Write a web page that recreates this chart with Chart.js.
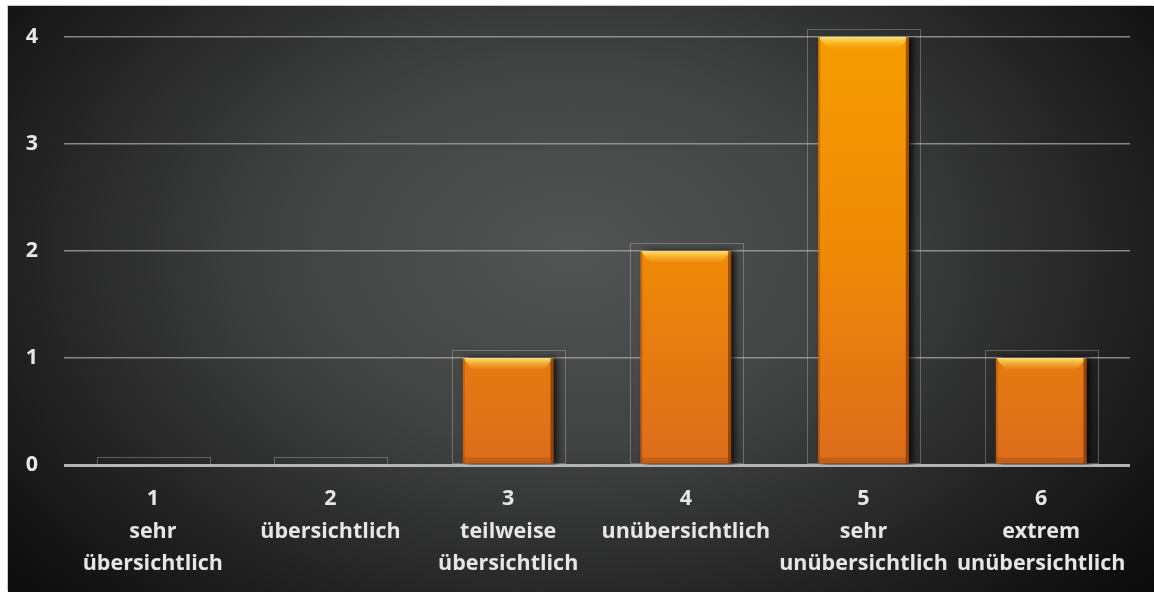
<!DOCTYPE html>
<html>
<head>
<meta charset="utf-8">
<script src="https://cdn.jsdelivr.net/npm/chart.js@4"></script>
<style>
  html, body { margin: 0; padding: 0; background: #ffffff; }
  #box {
    position: absolute; left: 8px; top: 6px; width: 1146px; height: 586px; overflow: hidden;
    background: radial-gradient(ellipse 72% 95% at 49% 42%, #535454 0%, #414242 35%, #1d1d1d 72%, #040404 100%);
    box-shadow: -1px -1px 0 #c8c8c8;
  }
  canvas { display: block; position: absolute; left: 0; top: -8px; }
</style>
</head>
<body>
<div id="box"><canvas id="chart" width="1146" height="594"></canvas></div>
<script>
// Kategorien und Werte
const categories = [
  ['1', 'sehr', 'übersichtlich'],
  ['2', 'übersichtlich'],
  ['3', 'teilweise', 'übersichtlich'],
  ['4', 'unübersichtlich'],
  ['5', 'sehr', 'unübersichtlich'],
  ['6', 'extrem', 'unübersichtlich']
];
const counts = [0, 0, 1, 2, 4, 1];
const yTicks = [0, 1, 2, 3, 4];

// Orangener Verlauf für die Balken
function barFill(context) {
  const area = context.chart.chartArea;
  if (!area) return '#f08c00';
  const el = context.element;
  const top = el && isFinite(el.y) ? el.y : area.top;
  const bottom = el && isFinite(el.base) ? el.base : area.bottom;
  if (bottom - top < 1) return '#f08c00';
  const g = context.chart.ctx.createLinearGradient(0, top, 0, bottom);
  g.addColorStop(0, '#f59c00');
  g.addColorStop(0.5, '#ef8a05');
  g.addColorStop(1, '#dc6c1c');
  return g;
}

// Rahmen hinter den Balken und Glanzkante oben
const barDecor = {
  id: 'barDecor',
  beforeDatasetsDraw(chart) {
    const ctx = chart.ctx;
    const meta = chart.getDatasetMeta(0);
    ctx.save();
    ctx.strokeStyle = 'rgba(200,200,200,0.35)';
    ctx.lineWidth = 1;
    meta.data.forEach(bar => {
      const half = bar.width / 2 + 11;
      const top = Math.round(bar.y - 8) + 0.5;
      ctx.strokeRect(Math.round(bar.x - half) + 0.5, top, Math.round(half * 2), Math.round(bar.base - top));
    });
    ctx.restore();
  },
  beforeDatasetDraw(chart) {
    const ctx = chart.ctx;
    ctx.save();
    ctx.shadowColor = 'rgba(0,0,0,0.75)';
    ctx.shadowBlur = 6;
    ctx.shadowOffsetX = 4;
    ctx.shadowOffsetY = 0;
  },
  afterDatasetDraw(chart) {
    const ctx = chart.ctx;
    ctx.restore();
    const meta = chart.getDatasetMeta(0);
    ctx.save();
    meta.data.forEach(bar => {
      const h = bar.base - bar.y;
      if (h < 4) return;
      const l = bar.x - bar.width / 2, r = bar.x + bar.width / 2, t = bar.y;
      // helle Kante oben
      const g = ctx.createLinearGradient(0, t, 0, t + 12);
      g.addColorStop(0, 'rgba(255,230,120,0.95)');
      g.addColorStop(1, 'rgba(255,200,60,0.0)');
      ctx.fillStyle = g;
      ctx.beginPath();
      ctx.moveTo(l, t); ctx.lineTo(r, t); ctx.lineTo(r - 10, t + 12); ctx.lineTo(l + 10, t + 12);
      ctx.closePath(); ctx.fill();
      // dunklere Seiten
      ctx.fillStyle = 'rgba(150,60,0,0.35)';
      ctx.fillRect(l, t, 2, h);
      ctx.fillStyle = 'rgba(90,30,0,0.55)';
      ctx.fillRect(r - 3, t, 3, h);
      // Unterkante
      ctx.fillStyle = 'rgba(150,70,20,0.35)';
      ctx.fillRect(l, bar.base - 6, bar.width, 6);
    });
    ctx.restore();
  }
};

new Chart(document.getElementById('chart'), {
  type: 'bar',
  data: {
    labels: categories,
    datasets: [{
      data: counts,
      backgroundColor: barFill,
      borderWidth: 0,
      barPercentage: 0.51,
      categoryPercentage: 1.0
    }]
  },
  options: {
    responsive: false,
    animation: false,
    layout: { padding: { top: 10, right: 24, bottom: 0, left: 0 } },
    plugins: { legend: { display: false }, tooltip: { enabled: false } },
    scales: {
      x: {
        afterFit: axis => { axis.height = 127; },
        grid: { display: false },
        border: { display: false },
        ticks: {
          color: '#e6e6e6',
          padding: 10,
          maxRotation: 0,
          font: { family: 'Open Sans', size: 21.5, weight: 'bold', lineHeight: 1.5 }
        }
      },
      y: {
        min: yTicks[0],
        max: yTicks[yTicks.length - 1],
        afterFit: axis => { axis.width = 56; },
        afterBuildTicks: axis => { axis.ticks = yTicks.map(v => ({ value: v })); },
        grid: {
          color: ctx => ctx.tick.value === 0 ? '#b4b4b4' : 'rgba(170,170,170,0.75)',
          lineWidth: ctx => ctx.tick.value === 0 ? 3 : 1.5,
          drawTicks: false
        },
        border: { display: false },
        ticks: {
          color: '#e6e6e6',
          padding: 26,
          font: { family: 'Open Sans', size: 21.5, weight: 'bold' }
        }
      }
    }
  },
  plugins: [barDecor]
});
</script>
</body>
</html>
